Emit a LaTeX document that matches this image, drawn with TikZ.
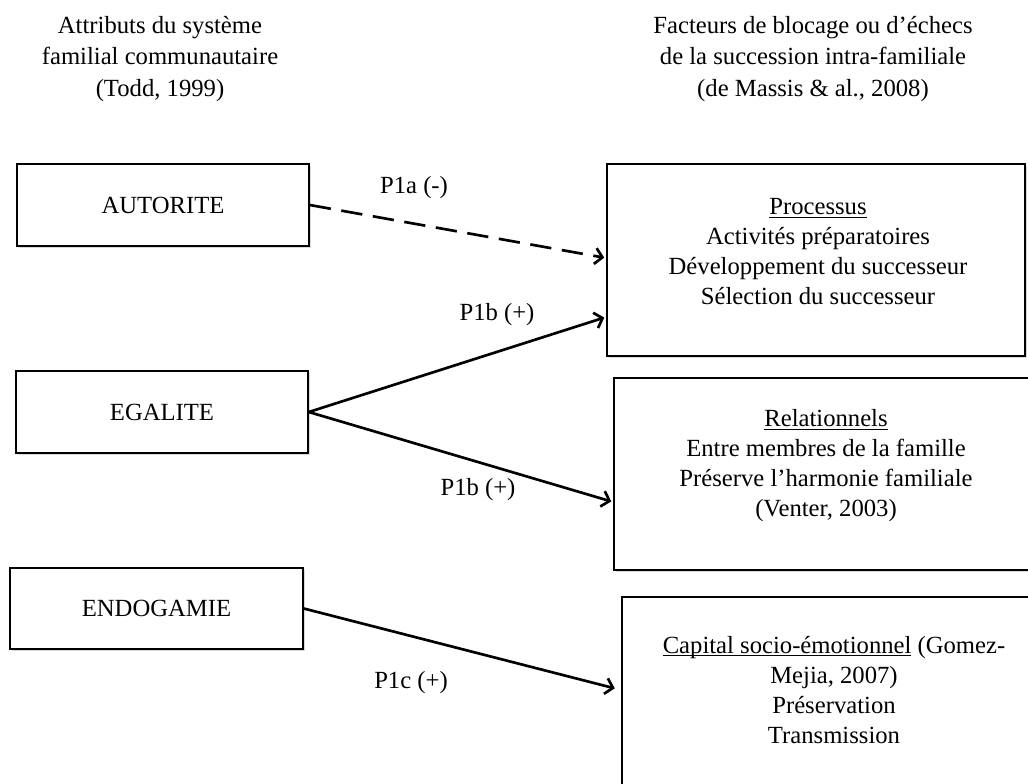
\documentclass[tikz,border=0pt]{standalone}
\usepackage{fontspec}
\setmainfont{Liberation Serif}
\usetikzlibrary{arrows.meta,shadows}
% underline set just below the baseline, crossing descenders, keeping the line height
\newcommand\uln[1]{\underline{\smash{#1}}\vphantom{#1}}

\begin{document}
\begin{tikzpicture}[x=0.75pt,y=-0.75pt,
  every node/.style={font=\fontsize{18.5}{22.5}\selectfont, inner sep=0pt},
  box/.style={draw, line width=1.2pt, fill=white,
    drop shadow={shadow xshift=1.2pt, shadow yshift=-1.2pt, fill=black, opacity=0.15}},
  txt/.style={align=center},
  head/.style={align=center, font=\fontsize{18.5}{23.6}\selectfont},
  link/.style={line width=2pt, shorten >=1.5pt,
    -{Straight Barb[length=5.5pt, width=12pt, line width=2pt]}},
  dashlink/.style={link, dash pattern=on 16pt off 8pt}
]
\useasboundingbox (0,0) rectangle (1028,783);
\clip (0,0) rectangle (1028,783);

% column headings
\node[head] (hl) at (160,59) {Attributs du système\\familial communautaire\\(Todd, 1999)};
\node[head] (hr) at (813,59) {Facteurs de blocage ou d’échecs\\de la succession intra-familiale\\(de Massis \& al., 2008)};

% attributes (left column)
\node[box, minimum width=219pt, minimum height=61.5pt] (aut) at (163,205) {AUTORITE};
\node[box, minimum width=219pt, minimum height=61.5pt] (ega) at (162,412) {EGALITE};
\node[box, minimum width=219.75pt, minimum height=60.75pt] (endo) at (156.5,608.5) {ENDOGAMIE};

% blocking factors (right column)
\node[box, minimum width=313.5pt, minimum height=144pt] (proc) at (816,260) {};
\node[txt] (proct) at (818,252) {\uln{Processus}\\Activités préparatoires\\Développement du successeur\\Sélection du successeur};

\node[box, minimum width=315.75pt, minimum height=144pt] (rel) at (824.5,474) {};
\node[txt] (relt) at (826,466) {\uln{Relationnels}\\Entre membres de la famille\\Préserve l’harmonie familiale\\(Venter, 2003)};

\node[box, minimum width=309.75pt, minimum height=152.25pt] (cap) at (828.5,698.5) {};
\node[txt] (capt) at (834,690) {\uln{Capital socio-émotionnel} (Gomez-\\Mejia, 2007)\\Préservation\\Transmission};

% propositions
\draw[dashlink] (aut.east) -- (proc.west |- 0,258);
\draw[link] (ega.east) -- (proc.west |- 0,317);
\draw[link] (ega.east) -- (rel.west |- 0,502);
\draw[link, shorten >=5pt] (endo.east) -- (cap.west |- 0,690);

\node (la) at (414,188) {P1a (-)};
\node (lb1) at (497,315) {P1b (+)};
\node (lb2) at (478,490) {P1b (+)};
\node (lc) at (411,683) {P1c (+)};
\end{tikzpicture}
\end{document}
